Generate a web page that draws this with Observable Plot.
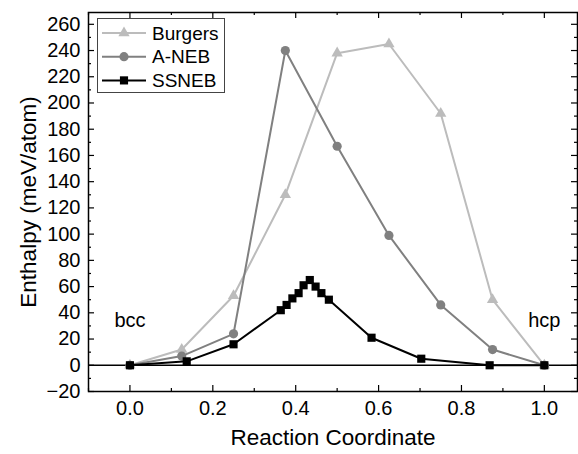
<!DOCTYPE html>
<html><head><meta charset="utf-8">
<script src="https://cdn.jsdelivr.net/npm/d3@7"></script>
<script src="https://cdn.jsdelivr.net/npm/@observablehq/plot@0.6"></script>
<style>
body{margin:0;background:#fff;font-family:"Liberation Sans",Arial,sans-serif}
#wrap{position:relative;width:578px;height:454px}
#legend{position:absolute;left:97px;top:18px;width:126px;height:73px;border:1.2px solid #444;background:#fff}
#legend svg{position:absolute;left:0;top:0}
</style></head><body><div id="wrap"></div>
<script>
// Data
const burgersX = [0, 0.125, 0.25, 0.375, 0.5, 0.625, 0.75, 0.875, 1.0];
const burgersY = [0, 12, 53, 130, 238, 245, 192, 50, 0];
const anebX = [0, 0.125, 0.25, 0.375, 0.5, 0.625, 0.75, 0.875, 1.0];
const anebY = [0, 7, 24, 240, 167, 99, 46, 12, 0];
const ssnebX = [0, 0.137, 0.25, 0.364, 0.378, 0.392, 0.407, 0.419, 0.434, 0.448, 0.462, 0.48, 0.583, 0.703, 0.868, 1.0];
const ssnebY = [0, 3, 16, 42, 46, 51, 55, 61, 65, 60, 55, 50, 21, 5, 0, 0];
const seriesNames = ["Burgers", "A-NEB", "SSNEB"];
const seriesColors = ["#bcbcbc", "#808080", "#000000"];
const phaseLabels = ["bcc", "hcp"];
const phaseX = [0, 1.0];
const phaseY = [34, 34];
const xMajor = [0, 0.2, 0.4, 0.6, 0.8, 1.0];
const xMinor = [-0.1, 0.1, 0.3, 0.5, 0.7, 0.9];
const yMajor = [-20, 0, 20, 40, 60, 80, 100, 120, 140, 160, 180, 200, 220, 240, 260];
const yMinor = [-10, 10, 30, 50, 70, 90, 110, 130, 150, 170, 190, 210, 230, 250];

const W = 578, H = 454, mL = 88, mR = 1, mT = 12, mB = 63;
const plotH = H - mT - mB, plotW = W - mL - mR;

const toRows = (xs, ys, name) => xs.map((x, i) => ({x, y: ys[i], name}));
const burgers = toRows(burgersX, burgersY, seriesNames[0]);
const aneb = toRows(anebX, anebY, seriesNames[1]);
const ssneb = toRows(ssnebX, ssnebY, seriesNames[2]);
const phases = phaseLabels.map((t, i) => ({t, x: phaseX[i], y: phaseY[i]}));

const chart = Plot.plot({
  width: W, height: H,
  marginLeft: mL, marginRight: mR, marginTop: mT, marginBottom: mB,
  style: {fontSize: "20px", fontFamily: "'Liberation Sans', Arial, sans-serif", color: "#000", background: "#fff"},
  x: {domain: [-0.1, 1.08]},
  y: {domain: [-20, 269]},
  marks: [
    Plot.ruleY([0], {stroke: "#000", strokeWidth: 1.5}),
    Plot.line(burgers, {x: "x", y: "y", stroke: seriesColors[0], strokeWidth: 2}),
    Plot.dot(burgers, {x: "x", y: "y", fill: seriesColors[0], symbol: "triangle", r: 4.2}),
    Plot.line(aneb, {x: "x", y: "y", stroke: seriesColors[1], strokeWidth: 2}),
    Plot.dot(aneb, {x: "x", y: "y", fill: seriesColors[1], symbol: "circle", r: 4.6}),
    Plot.line(ssneb, {x: "x", y: "y", stroke: seriesColors[2], strokeWidth: 2}),
    Plot.dot(ssneb, {x: "x", y: "y", fill: seriesColors[2], symbol: "square", r: 4.6}),
    Plot.text(phases, {x: "x", y: "y", text: "t", fontSize: 20, fill: "#000"}),
    // inward ticks
    Plot.ruleX(xMajor, {insetTop: plotH - 6, stroke: "#000", strokeWidth: 1.2}),
    Plot.ruleX(xMajor, {insetBottom: plotH - 6, stroke: "#000", strokeWidth: 1.2}),
    Plot.ruleX(xMinor, {insetTop: plotH - 3, stroke: "#000", strokeWidth: 1.2}),
    Plot.ruleX(xMinor, {insetBottom: plotH - 3, stroke: "#000", strokeWidth: 1.2}),
    Plot.ruleY(yMajor, {insetRight: plotW - 6, stroke: "#000", strokeWidth: 1.2}),
    Plot.ruleY(yMajor, {insetLeft: plotW - 6, stroke: "#000", strokeWidth: 1.2}),
    Plot.ruleY(yMinor, {insetRight: plotW - 3, stroke: "#000", strokeWidth: 1.2}),
    Plot.ruleY(yMinor, {insetLeft: plotW - 3, stroke: "#000", strokeWidth: 1.2}),
    Plot.axisX(xMajor, {tickSize: 0, tickPadding: 9, tickFormat: d3.format(".1f"), label: null, fontSize: 20}),
    Plot.axisY(yMajor, {tickSize: 0, tickPadding: 8, label: null, fontSize: 20}),
    Plot.frame({stroke: "#000", strokeWidth: 1.5}),
    Plot.text(["Reaction Coordinate"], {text: d => d, frameAnchor: "bottom", textAnchor: "middle", lineAnchor: "middle", dy: 46, fontSize: 22.5}),
    Plot.text(["Enthalpy (meV/atom)"], {text: d => d, frameAnchor: "left", textAnchor: "middle", lineAnchor: "middle", rotate: -90, dx: -60, fontSize: 22.5})
  ]
});
const wrap = document.getElementById("wrap");
wrap.appendChild(chart);

// Legend
const leg = document.createElement("div");
leg.id = "legend";
wrap.appendChild(leg);
const svg = d3.select(leg).append("svg").attr("width", 126).attr("height", 73);
const symbols = [d3.symbolTriangle, d3.symbolCircle, d3.symbolSquare];
const radii = [4.2, 4.6, 4.6];
seriesNames.forEach((name, i) => {
  const cy = 14 + i * 23.7;
  const g = svg.append("g");
  g.append("line").attr("x1", 4).attr("x2", 48).attr("y1", cy).attr("y2", cy)
    .attr("stroke", seriesColors[i]).attr("stroke-width", 2);
  g.append("path").attr("d", d3.symbol(symbols[i], Math.PI * radii[i] * radii[i])())
    .attr("transform", `translate(26,${cy})`).attr("fill", seriesColors[i]);
  g.append("text").attr("x", 54).attr("y", cy).attr("dy", "0.35em")
    .attr("font-size", 19).attr("font-family", "'Liberation Sans', Arial, sans-serif")
    .attr("fill", "#000").text(name);
});
</script>
</body></html>
